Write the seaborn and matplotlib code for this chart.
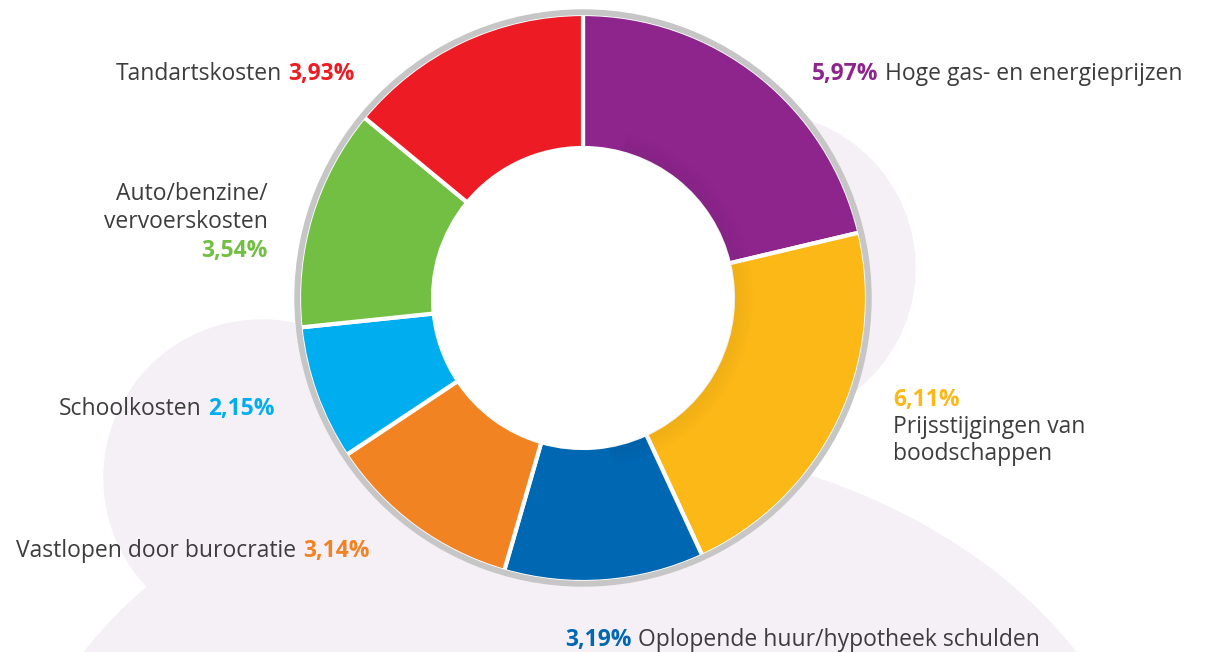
import matplotlib
matplotlib.use("Agg")
import matplotlib.pyplot as plt
import seaborn as sns
from matplotlib.patches import Circle, Ellipse, Wedge

# kostenposten, met de klok mee vanaf boven
labels = ["Hoge gas- en energieprijzen",
          "Prijsstijgingen van\nboodschappen",
          "Oplopende huur/hypotheek schulden",
          "Vastlopen door burocratie",
          "Schoolkosten",
          "Auto/benzine/\nvervoerskosten",
          "Tandartskosten"]
values = [5.97, 6.11, 3.19, 3.14, 2.15, 3.54, 3.93]
colors = ["#8e258d", "#fbb817", "#0067b2", "#f28322", "#00aeef", "#72bf44", "#ed1c24"]

sns.set_theme(style="white")
plt.rcParams["font.family"] = ["Open Sans", "DejaVu Sans"]

W, H = 1213, 652
fig = plt.figure(figsize=(W / 100, H / 100), dpi=100)
ax = fig.add_axes([0, 0, 1, 1])

def Y(y):
    return H - y

cx, cy = 583, Y(298)

# achtergrond vormen (lichte lila wolk)
lav = "#f5eff6"
ax.add_patch(Circle((760, Y(268)), 155, color=lav, zorder=0))
ax.add_patch(Circle((262, Y(478)), 158, color=lav, zorder=0))
ax.add_patch(Ellipse((580, Y(870)), 1150, 860, color=lav, zorder=0))
# wit gat in het midden
ax.add_patch(Circle((cx, cy), 152, color="white", zorder=0.8))

ax.pie(values, colors=colors, startangle=90, counterclock=False,
       radius=284, center=(cx, cy),
       wedgeprops=dict(width=134, edgecolor="white", linewidth=3, zorder=1))

# grijze buitenrand
ax.add_patch(Wedge((cx, cy), 288, 0, 360, width=4.5, color="#c6c6c6", zorder=2))

# zachte schaduw langs het gat
for k in range(10):
    ax.add_patch(Wedge((cx, cy), 151 + 2 * (k + 1), -80, 75, width=2,
                       color="black", alpha=0.05 * (10 - k) / 10,
                       lw=0, zorder=1.5))

ax.set_xlim(0, W)
ax.set_ylim(0, H)
ax.set_aspect("equal")
ax.axis("off")

txt = "#3d3d3d"
fs = 16.5

def pct(v):
    return f"{v:.2f}".replace(".", ",") + "%"

def pct_first(i, x, yb):
    p = ax.text(x, Y(yb), pct(values[i]), color=colors[i], fontsize=fs,
                fontweight="bold", ha="left", va="baseline")
    ax.annotate(labels[i], xy=(1, Y(yb)), xycoords=(p, "data"),
                xytext=(5, 0), textcoords="offset points",
                color=txt, fontsize=fs, ha="left", va="baseline")

def pct_last(i, x, yb):
    p = ax.text(x, Y(yb), pct(values[i]), color=colors[i], fontsize=fs,
                fontweight="bold", ha="right", va="baseline")
    ax.annotate(labels[i], xy=(0, Y(yb)), xycoords=(p, "data"),
                xytext=(-5, 0), textcoords="offset points",
                color=txt, fontsize=fs, ha="right", va="baseline")

pct_first(0, 812, 80)
pct_first(2, 565, 646)
pct_last(3, 370, 557)
pct_last(4, 275, 415)
pct_last(6, 355, 80)

# meerregelige labels
ax.text(893, Y(406), pct(values[1]), color=colors[1], fontsize=fs,
        fontweight="bold", ha="left", va="baseline")
for k, line in enumerate(labels[1].split("\n")):
    ax.text(893, Y(433 + 27 * k), line, color=txt, fontsize=fs,
            ha="left", va="baseline")

for k, line in enumerate(labels[5].split("\n")):
    ax.text(268, Y(200 + 28 * k), line, color=txt, fontsize=fs,
            ha="right", va="baseline")
ax.text(268, Y(257), pct(values[5]), color=colors[5], fontsize=fs,
        fontweight="bold", ha="right", va="baseline")

fig.savefig("out.png", dpi=100, facecolor="white")
